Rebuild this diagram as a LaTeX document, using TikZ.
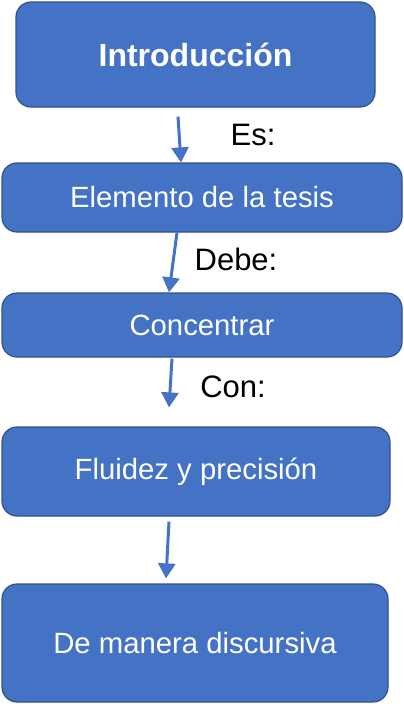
\documentclass[tikz,border=0pt]{standalone}
\usepackage{fontspec}
\setmainfont{Liberation Sans}
\usepackage{tikz}
\usetikzlibrary{arrows.meta}

\definecolor{boxblue}{HTML}{4472C4}
\definecolor{boxline}{HTML}{2F528F}

\tikzset{
  caja/.style={draw=boxline, line width=1.2pt, fill=boxblue, rounded corners=15pt,
    text=white, font=\fontsize{29.3}{33}\selectfont, inner sep=0pt, align=center},
  flecha/.style={draw=boxblue, line width=3pt, -{Triangle[width=17pt,length=15pt]}},
  etiqueta/.style={font=\fontsize{31}{35}\selectfont, inner sep=0pt}
}

\begin{document}
\begin{tikzpicture}[x=1pt, y=1pt]
    \useasboundingbox (0,0) rectangle (404,-704);
    % cajas
    \node[caja, minimum width=359pt, minimum height=105pt, font=\fontsize{32}{36}\selectfont\bfseries] (intro) at (195.5,-54.5) {Introducción};
    \node[caja, minimum width=400pt, minimum height=69pt] (elem) at (202,-197.5) {Elemento de la tesis};
    \node[caja, minimum width=400pt, minimum height=64pt] (conc) at (202,-325) {Concentrar};
    \node[caja, minimum width=388pt, minimum height=89pt] (flui) at (196,-471.5) {Fluidez y precisión};
    \node[caja, minimum width=386pt, minimum height=118pt] (mane) at (195,-643) {De manera discursiva};
    % flechas
    \draw[flecha] ([shift={(-17.5,-9)}]intro.south) -- ([shift={(-21,0)}]elem.north);
    \draw[flecha] ([shift={(-25,0)}]elem.south) -- ([shift={(-33,0)}]conc.north);
    \draw[flecha] ([shift={(-30,-1)}]conc.south) -- ([shift={(-27,19)}]flui.north);
    \draw[flecha] ([shift={(-27,-5)}]flui.south) -- ([shift={(-29,5)}]mane.north);
    % etiquetas
    \node[etiqueta] (es) at (253,-135) {Es:};
    \node[etiqueta] (debe) at (236,-259) {Debe:};
    \node[etiqueta] (con) at (233,-387) {Con:};
\end{tikzpicture}
\end{document}
